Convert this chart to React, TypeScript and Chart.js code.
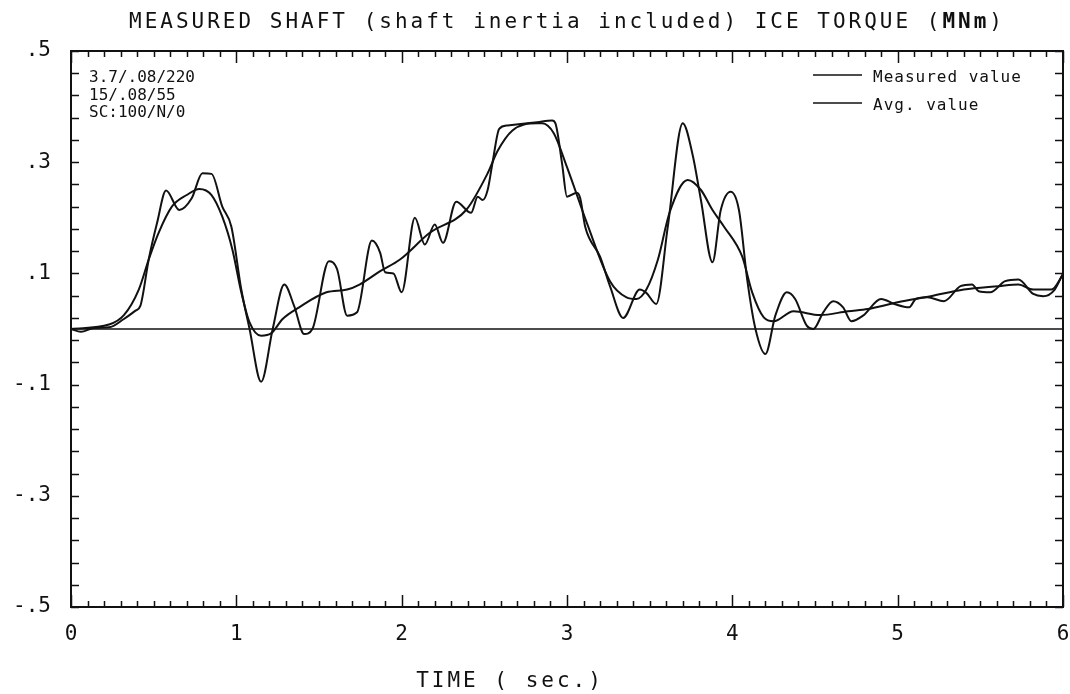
import React, { useEffect, useRef } from "react";
import { Chart, registerables } from "chart.js";

Chart.register(...registerables);

// Measured shaft ice torque (MNm) vs time (s)
const measuredTime = [
  0, 0.06, 0.14, 0.23, 0.32, 0.39, 0.42, 0.47, 0.52, 0.575,
  0.655, 0.73, 0.795, 0.85, 0.915, 0.97, 1.03, 1.08, 1.15, 1.22,
  1.29, 1.35, 1.41, 1.46, 1.56, 1.61, 1.67, 1.73, 1.82, 1.87,
  1.9, 1.95, 2.0, 2.08, 2.14, 2.2, 2.25, 2.33, 2.42, 2.46,
  2.49, 2.52, 2.55, 2.59, 2.64, 2.82, 2.91, 2.93, 2.97, 3.0,
  3.06, 3.08, 3.11, 3.2, 3.26, 3.34, 3.44, 3.48, 3.54, 3.61,
  3.7, 3.76, 3.81, 3.88, 3.93, 3.99, 4.04, 4.09, 4.14, 4.2,
  4.26, 4.33, 4.38, 4.45, 4.49, 4.55, 4.61, 4.67, 4.72, 4.79,
  4.9, 4.98, 5.07, 5.11, 5.18, 5.28, 5.38, 5.45, 5.49, 5.56,
  5.65, 5.73, 5.82, 5.88, 5.95, 6.0,
];
const measuredValue = [
  0, -0.005, 0.002, 0.003, 0.018, 0.033, 0.042, 0.125, 0.19, 0.249,
  0.214, 0.235, 0.28, 0.279, 0.22, 0.184, 0.071, 0, -0.095, 0,
  0.08, 0.041, -0.009, 0, 0.122, 0.107, 0.024, 0.03, 0.159, 0.137,
  0.102, 0.1, 0.066, 0.2, 0.152, 0.188, 0.155, 0.229, 0.209, 0.238,
  0.232, 0.25, 0.3, 0.36, 0.366, 0.372, 0.375, 0.37, 0.298, 0.238,
  0.245, 0.235, 0.184, 0.13, 0.077, 0.02, 0.071, 0.065, 0.045, 0.185,
  0.37, 0.313, 0.232, 0.12, 0.214, 0.247, 0.214, 0.089, 0, -0.045,
  0.024, 0.066, 0.054, 0.006, 0, 0.03, 0.05, 0.039, 0.014, 0.024,
  0.054, 0.045, 0.039, 0.054, 0.057, 0.05, 0.077, 0.08, 0.068, 0.066,
  0.086, 0.089, 0.063, 0.059, 0.071, 0.1,
];

// Averaged value
const avgTime = [
  0, 0.23, 0.32, 0.41, 0.47, 0.53, 0.61, 0.7, 0.776, 0.85,
  0.915, 0.976, 1.03, 1.08, 1.15, 1.21, 1.28, 1.38, 1.545, 1.67,
  1.745, 1.87, 1.99, 2.17, 2.39, 2.52, 2.58, 2.67, 2.82, 2.85,
  2.92, 3.0, 3.12, 3.26, 3.36, 3.42, 3.48, 3.55, 3.62, 3.73,
  3.81, 3.88, 3.95, 4.06, 4.12, 4.19, 4.25, 4.37, 4.53, 4.7,
  4.82, 5.0, 5.2, 5.4, 5.61, 5.73, 5.82, 5.93, 6.0,
];
const avgValue = [
  0, 0.008, 0.025, 0.071, 0.125, 0.173, 0.22, 0.241, 0.252, 0.241,
  0.202, 0.143, 0.066, 0.012, -0.012, -0.008, 0.018, 0.039, 0.066, 0.071,
  0.08, 0.104, 0.125, 0.173, 0.214, 0.28, 0.32, 0.357, 0.37, 0.37,
  0.352, 0.291, 0.191, 0.086, 0.057, 0.054, 0.071, 0.125, 0.209, 0.268,
  0.25, 0.214, 0.184, 0.13, 0.066, 0.021, 0.014, 0.032, 0.025, 0.032,
  0.036, 0.048, 0.059, 0.071, 0.077, 0.08, 0.071, 0.071, 0.098,
];

const zeroTime = [0, 6];
const zeroValue = [0, 0];

const xTickValues = [0, 1, 2, 3, 4, 5, 6];
const yTickValues = [
  -0.5, -0.46, -0.42, -0.38, -0.34, -0.3, -0.26, -0.22, -0.18, -0.14,
  -0.1, -0.06, -0.02, 0.02, 0.06, 0.1, 0.14, 0.18, 0.22, 0.26,
  0.3, 0.34, 0.38, 0.42, 0.46, 0.5,
];
const yLabelValues = [-0.5, -0.3, -0.1, 0.1, 0.3, 0.5];

const titleMain = "MEASURED SHAFT (shaft inertia included) ICE TORQUE (";
const titleBold = "MNm";
const titleEnd = ")";
const xTitle = "TIME ( sec.)";
const infoLines = ["3.7/.08/220", "15/.08/55", "SC:100/N/0"];
const legendLabels = ["Measured value", "Avg. value"];

const FONT = '"DejaVu Sans Mono", "Liberation Mono", monospace';

function fmtY(v: number): string {
  const r = Math.round(v * 10) / 10;
  if (r === 0) return "0";
  const s = Math.abs(r).toString().replace(/^0/, "");
  return (r < 0 ? "-" : "") + s;
}

const decorPlugin = {
  id: "decor",
  afterDraw(chart: any) {
    const ctx = chart.ctx as CanvasRenderingContext2D;
    const { left, right, top, bottom } = chart.chartArea;
    const xs = chart.scales.x;
    const ys = chart.scales.y;
    ctx.save();
    ctx.strokeStyle = "#111";
    ctx.fillStyle = "#111";

    // frame
    ctx.lineWidth = 2;
    ctx.strokeRect(left, top, right - left, bottom - top);

    // x ticks (inward, top and bottom)
    ctx.lineWidth = 1.5;
    ctx.beginPath();
    for (let k = 0; k <= 60; k++) {
      const px = Math.round(xs.getPixelForValue(k / 10)) + 0.5;
      const len = k % 10 === 0 ? 12 : 6;
      ctx.moveTo(px, bottom);
      ctx.lineTo(px, bottom - len);
      ctx.moveTo(px, top);
      ctx.lineTo(px, top + len);
    }
    // y ticks (inward, left and right)
    yTickValues.forEach((v) => {
      const py = Math.round(ys.getPixelForValue(v)) + 0.5;
      ctx.moveTo(left, py);
      ctx.lineTo(left + 8, py);
      ctx.moveTo(right, py);
      ctx.lineTo(right - 8, py);
    });
    ctx.stroke();

    // title
    (ctx as any).letterSpacing = "3px";
    ctx.textBaseline = "alphabetic";
    ctx.textAlign = "left";
    const fN = `21px ${FONT}`;
    const fB = `bold 21px ${FONT}`;
    ctx.font = fN;
    const w1 = ctx.measureText(titleMain).width;
    const w3 = ctx.measureText(titleEnd).width;
    ctx.font = fB;
    const w2 = ctx.measureText(titleBold).width;
    let tx = (left + right) / 2 - (w1 + w2 + w3) / 2;
    const ty = 28;
    ctx.font = fN;
    ctx.fillText(titleMain, tx, ty);
    tx += w1;
    ctx.font = fB;
    ctx.fillText(titleBold, tx, ty);
    tx += w2;
    ctx.font = fN;
    ctx.fillText(titleEnd, tx, ty);

    // x axis title
    ctx.textAlign = "center";
    ctx.fillText(xTitle, 510, 687);

    // info text
    (ctx as any).letterSpacing = "0px";
    ctx.textAlign = "left";
    ctx.font = `16px ${FONT}`;
    infoLines.forEach((s, i) => ctx.fillText(s, 89, 82 + i * 17.5));

    // legend
    (ctx as any).letterSpacing = "1px";
    ctx.lineWidth = 1.5;
    legendLabels.forEach((s, i) => {
      const ly = 75 + i * 28;
      ctx.beginPath();
      ctx.moveTo(813, ly);
      ctx.lineTo(862, ly);
      ctx.stroke();
      ctx.fillText(s, 873, ly + 7);
    });
    ctx.restore();
  },
};

export default function App() {
  const ref = useRef<HTMLCanvasElement | null>(null);
  useEffect(() => {
    if (!ref.current) return;
    const chart = new Chart(ref.current, {
      type: "line",
      data: {
        datasets: [
          {
            label: legendLabels[0],
            data: measuredTime.map((t, i) => ({ x: t, y: measuredValue[i] })),
            borderColor: "#111",
            borderWidth: 2,
            pointRadius: 0,
            cubicInterpolationMode: "monotone",
            fill: false,
          },
          {
            label: legendLabels[1],
            data: avgTime.map((t, i) => ({ x: t, y: avgValue[i] })),
            borderColor: "#111",
            borderWidth: 2,
            pointRadius: 0,
            cubicInterpolationMode: "monotone",
            fill: false,
          },
          {
            label: "zero",
            data: zeroTime.map((t, i) => ({ x: t, y: zeroValue[i] })),
            borderColor: "#111",
            borderWidth: 1.5,
            pointRadius: 0,
            fill: false,
          },
        ],
      },
      options: {
        responsive: false,
        animation: false,
        devicePixelRatio: 1,
        layout: { padding: { top: 51, right: 7, left: 0, bottom: 0 } },
        plugins: {
          legend: { display: false },
          title: { display: false },
          tooltip: { enabled: false },
        },
        scales: {
          x: {
            type: "linear",
            min: 0,
            max: 6,
            grid: { display: false },
            border: { display: false },
            afterBuildTicks: (s: any) => {
              s.ticks = xTickValues.map((v) => ({ value: v }));
            },
            afterFit: (s: any) => {
              s.height = 87;
              s.paddingLeft = 0;
              s.paddingRight = 0;
            },
            ticks: {
              color: "#111",
              padding: 7,
              maxRotation: 0,
              font: { family: FONT, size: 21 },
              callback: (v: any) => String(v),
            },
          },
          y: {
            type: "linear",
            min: -0.5,
            max: 0.5,
            grid: { display: false },
            border: { display: false },
            afterBuildTicks: (s: any) => {
              s.ticks = yTickValues.map((v) => ({ value: v }));
            },
            afterFit: (s: any) => {
              s.width = 71;
              s.paddingTop = 0;
              s.paddingBottom = 0;
            },
            ticks: {
              color: "#111",
              padding: 12,
              autoSkip: false,
              font: { family: FONT, size: 21 },
              callback: (v: any) =>
                yLabelValues.some((l) => Math.abs(l - v) < 1e-6) ? fmtY(v) : "",
            },
          },
        },
      },
      plugins: [decorPlugin],
    } as any);
    return () => chart.destroy();
  }, []);
  return (
    <div style={{ position: "absolute", left: 0, top: 0, width: 1070, height: 694, background: "#fff" }}>
      <canvas ref={ref} width={1070} height={694} />
    </div>
  );
}
